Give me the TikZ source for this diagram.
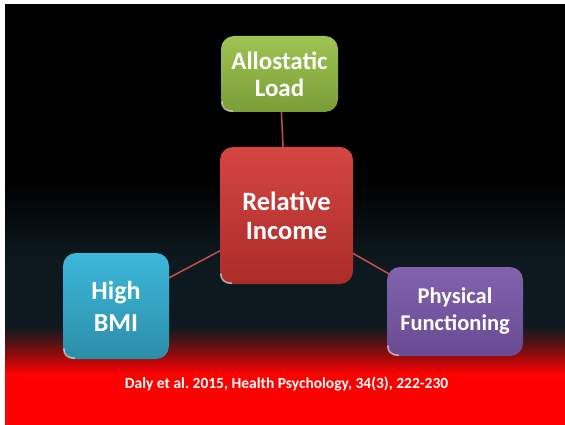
\documentclass[tikz,border=0pt]{standalone}
\usepackage{fontspec}
\setmainfont{Carlito}
\usetikzlibrary{backgrounds,calc}
\definecolor{linkred}{RGB}{196,80,77}
\definecolor{bgdark}{RGB}{13,25,31}
\definecolor{bgmid}{RGB}{80,18,20}
\tikzset{
  box/.style={rounded corners=13pt, inner sep=0pt, align=center, text=white,
    font=\bfseries\fontsize{25}{27}\selectfont},
  link/.style={draw=linkred, line width=1.5pt},
  glint/.style={draw=white, opacity=0.6, line width=1.6pt, line cap=round},
}
\newcommand{\glintat}[2]{%
  \draw[glint] ($(#1.south west)+(1,-0.8*#2)$) .. controls ($(#1.south west)+(1,-0.35*#2)$) and ($(#1.south west)+(0.35*#2,-1)$) .. ($(#1.south west)+(0.9*#2,-1)$);}
\begin{document}
\begin{tikzpicture}[x=1pt,y=-1pt]
\useasboundingbox (0,0) rectangle (565,425);
% boxes
\node[box, minimum width=117pt, minimum height=76pt, top color={rgb,255:red,158;green,196;blue,82}, bottom color={rgb,255:red,122;green,158;blue,54}] (allo) at (279.5,74) {Allostatic\\Load};
\node[box, minimum width=133pt, minimum height=137pt, top color={rgb,255:red,212;green,70;blue,66}, bottom color={rgb,255:red,170;green,44;blue,41}, font=\bfseries\fontsize{26.5}{29}\selectfont] (rel) at (286.5,215.5) {Relative\\Income};
\node[box, minimum width=106pt, minimum height=106pt, top color={rgb,255:red,60;green,184;blue,218}, bottom color={rgb,255:red,44;green,142;blue,168}, font=\bfseries\fontsize{26}{32}\selectfont] (bmi) at (116,306) {High\\BMI};
\node[box, minimum width=136pt, minimum height=89pt, top color={rgb,255:red,130;green,98;blue,174}, bottom color={rgb,255:red,104;green,74;blue,146}, font=\bfseries\fontsize{22.5}{27}\selectfont] (phys) at (455,311.5) {Physical\\Functioning};
\glintat{allo}{13}
\glintat{rel}{13}
\glintat{bmi}{13}
\glintat{phys}{13}
% citation
\node[text=white, font=\bfseries\fontsize{15.5}{18}\selectfont] (cite) at (286.5,384) {Daly et al.\ 2015, Health Psychology, 34(3), 222-230};
\begin{scope}[on background layer]
  \fill[white] (0,0) rectangle (565,425);
  \fill[black] (5,4) rectangle (565,180);
  \shade[top color=black, bottom color=bgdark] (5,180) rectangle (565,260.5);
  \fill[bgdark] (5,260) rectangle (565,326.5);
  \shade[top color=bgdark, bottom color=bgmid] (5,326) rectangle (565,342.5);
  \shade[top color=bgmid, bottom color=red] (5,342) rectangle (565,374.5);
  \fill[red] (5,374) rectangle (565,425);
  \draw[link] (rel.center) -- (allo.center);
  \draw[link] (rel.center) -- (bmi.center);
  \draw[link] (rel.center) -- (phys.center);
\end{scope}
\end{tikzpicture}
\end{document}
